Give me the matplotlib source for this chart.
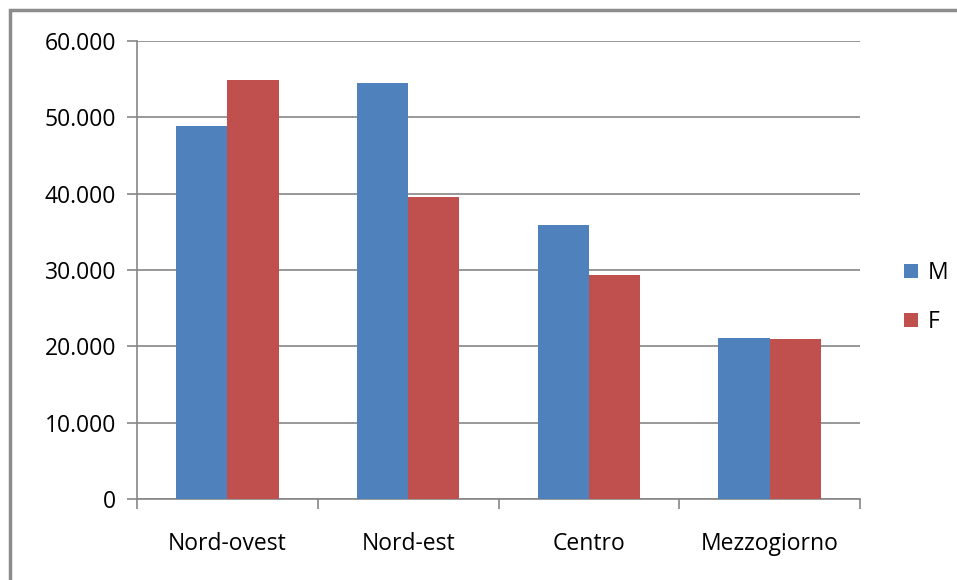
import numpy as np
import matplotlib.pyplot as plt
from matplotlib.patches import Rectangle

categories = ["Nord-ovest", "Nord-est", "Centro", "Mezzogiorno"]
m_values = [48850, 54500, 35900, 21100]
f_values = [54850, 39550, 29350, 20950]
series_names = ["M", "F"]
y_ticks = [0, 10000, 20000, 30000, 40000, 50000, 60000]
y_labels = ["0", "10.000", "20.000", "30.000", "40.000", "50.000", "60.000"]

blue = "#4f81bd"
red = "#c0504d"
grid = "#868686"

plt.rcParams['font.family'] = ['Open Sans', 'DejaVu Sans']
fs = 16.5

fig = plt.figure(figsize=(9.57, 5.8), dpi=100)
# outer frame like the spreadsheet chart
fig.patches.append(Rectangle((10/957, -0.1), 1.1, 570/580 + 0.1,
                             transform=fig.transFigure, fill=False,
                             edgecolor="#8c8c8c", linewidth=2.5))

ax = fig.add_axes([137/957, 1 - 499/580, (860-137)/957, (499-41)/580])

x = np.arange(len(categories))
w = 0.283
ax.bar(x - w/2, m_values, w, color=blue, label=series_names[0], zorder=3)
ax.bar(x + w/2, f_values, w, color=red, label=series_names[1], zorder=3)

ax.set_xlim(-0.5, len(categories) - 0.5)
ax.set_ylim(0, 60000)
ax.set_yticks(y_ticks)
ax.set_yticklabels(y_labels, fontsize=fs)
ax.yaxis.grid(True, color=grid, linewidth=1.2, zorder=0)
ax.tick_params(axis='y', length=7, width=1.2, color=grid, pad=8)

ax.set_xticks(x)
ax.set_xticklabels(categories, fontsize=fs)
ax.tick_params(axis='x', length=0, pad=24)
# category boundary ticks
ax.set_xticks(np.arange(len(categories) + 1) - 0.5, minor=True)
ax.tick_params(axis='x', which='minor', length=7, width=1.2, color=grid)

for s in ['top', 'right']:
    ax.spines[s].set_visible(False)
for s in ['left', 'bottom']:
    ax.spines[s].set_color(grid)
    ax.spines[s].set_linewidth(1.2)

ax.legend(loc='center left', bbox_to_anchor=(1.045, 0.44), frameon=False,
          fontsize=fs, handlelength=0.6, handleheight=0.6, handletextpad=0.45,
          labelspacing=1.1, borderpad=0)

fig.savefig("out.png", dpi=100)
